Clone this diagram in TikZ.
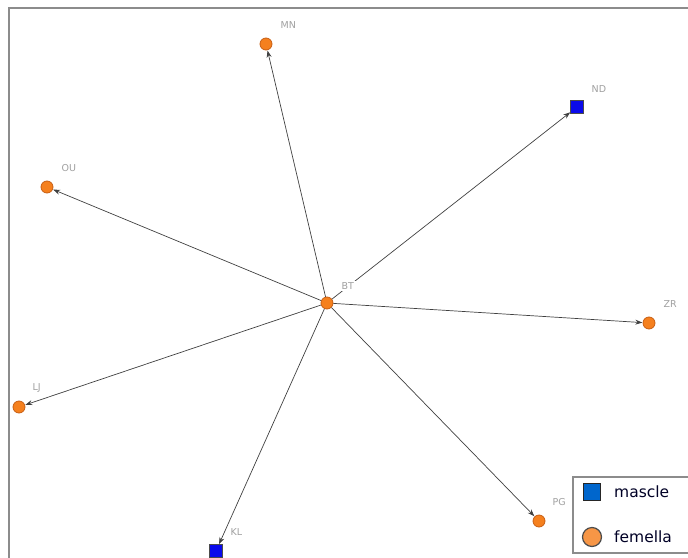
\documentclass[tikz,border=0pt]{standalone}
\usepackage{fontspec}
\setmainfont{DejaVu Sans}
\usetikzlibrary{arrows.meta}
\definecolor{femcol}{RGB}{245,128,30}
\definecolor{femedge}{RGB}{200,95,20}
\definecolor{mascol}{RGB}{10,10,235}
\definecolor{legfem}{RGB}{247,150,70}
\definecolor{legmas}{RGB}{0,102,204}
\definecolor{labgray}{RGB}{160,160,160}
\definecolor{framegray}{RGB}{140,140,140}
\tikzset{
  fem/.style={circle, fill=femcol, draw=femedge, line width=0.8pt, minimum size=12pt, inner sep=0pt},
  mas/.style={rectangle, fill=mascol, draw=black!70, line width=0.6pt, minimum size=12.5pt, inner sep=0pt},
  lab/.style={font=\fontsize{9.5}{10}\selectfont, text=labgray, fill=white, inner sep=1.5pt, anchor=base west},
  link/.style={draw=black!75, line width=0.7pt, -{Stealth[length=7pt,width=5pt]}, shorten >=0.3pt},
  legtext/.style={font=\fontsize{15.5}{17}\selectfont, text=black!85!blue, inner sep=0pt, anchor=west}
}
\begin{document}
\begin{tikzpicture}[x=1pt,y=-1pt]
  \useasboundingbox (0,0) rectangle (688,557);
  \clip (0,0) rectangle (688,557);
  % outer frame (top and left edges)
  \draw[framegray, line width=2pt] (9,558) -- (9,8) -- (690,8);

  % nodes
  \node[fem] (BT) at (327,303) {};
  \node[fem] (MN) at (266,44) {};
  \node[mas] (ND) at (577,107) {};
  \node[fem] (OU) at (47,187) {};
  \node[fem] (ZR) at (649,323) {};
  \node[fem] (LJ) at (19,407) {};
  \node[fem] (PG) at (539,521) {};
  \node[mas] (KL) at (216,551) {};

  % links from BT
  \foreach \t in {MN,ND,OU,ZR,LJ,PG,KL}
    \draw[link] (BT) -- (\t);

  % labels, on a white ground over the links
  \node[lab] (tBT) at (340,289) {BT};
  \node[lab] (tMN) at (279,28) {MN};
  \node[lab] (tND) at (590,92) {ND};
  \node[lab] (tOU) at (60,171) {OU};
  \node[lab] (tZR) at (662,307) {ZR};
  \node[lab] (tLJ) at (31,390) {LJ};
  \node[lab] (tPG) at (551,505) {PG};
  \node[lab] (tKL) at (229,535) {KL};

  % legend
  \draw[framegray, line width=1.5pt, fill=white] (573,477) rectangle (695,553);
  \node[rectangle, fill=legmas, draw=black!85, line width=1.2pt, minimum size=17pt, inner sep=0pt] (lmas) at (592,492) {};
  \node[circle, fill=legfem, draw=black!70, line width=1.2pt, minimum size=19pt, inner sep=0pt] (lfem) at (592,537) {};
  \node[legtext] (tmas) at (614,492) {mascle};
  \node[legtext] (tfem) at (614,537) {femella};
\end{tikzpicture}
\end{document}
